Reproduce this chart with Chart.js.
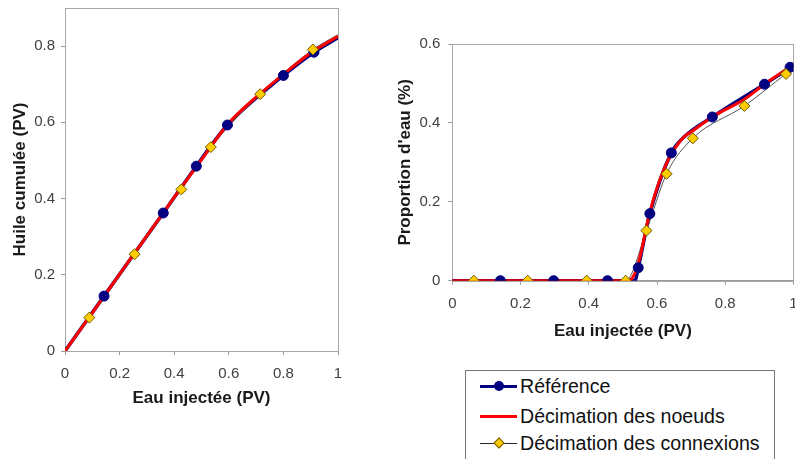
<!DOCTYPE html>
<html lang="fr">
<head>
<meta charset="utf-8">
<title>Huile cumulée et proportion d'eau</title>
<script src="https://cdn.jsdelivr.net/npm/chart.js@4.4.1/dist/chart.umd.min.js"></script>
<style>
  html, body { margin: 0; padding: 0; background: #fff; overflow: hidden; }
  #wrap { position: relative; width: 795px; height: 459px; overflow: hidden; }
  #left { position: absolute; left: 0; top: 0; width: 360px; height: 420px; }
  #right { position: absolute; left: 390px; top: 0; width: 420px; height: 345px; }
  #legend {
    position: absolute; left: 465px; top: 370px; width: 308px; height: 100px;
    border: 1px solid #777; background: #fff;
    font-family: "Liberation Sans", Arial, sans-serif; font-size: 19.6px; color: #111;
  }
  .item { position: absolute; left: 14px; height: 20px; display: flex; align-items: center; white-space: nowrap; }
  .swatch { position: relative; width: 37px; height: 20px; margin-right: 3px; }
  .swatch .ln { position: absolute; left: 0; right: 0; }
  .swatch .mk { position: absolute; box-sizing: border-box; }
</style>
</head>
<body>
<div id="wrap">
  <div id="left"><canvas id="oilChart"></canvas></div>
  <div id="right"><canvas id="waterChart"></canvas></div>
  <div id="legend"></div>
</div>
<script>
// Tick labels
const xTicks = [0, 0.2, 0.4, 0.6, 0.8, 1];
const oilTicks = [0, 0.2, 0.4, 0.6, 0.8];
const waterTicks = [0, 0.2, 0.4, 0.6];
const seriesNames = ['Référence', 'Décimation des noeuds', 'Décimation des connexions'];

// Huile cumulée (PV) vs Eau injectée (PV)
const oilRefX = [0, 0.143, 0.36, 0.481, 0.595, 0.80, 0.912, 1];
const oilRefY = [0, 0.144, 0.362, 0.485, 0.593, 0.723, 0.784, 0.822];
const oilRefMarkX = [0.143, 0.36, 0.481, 0.595, 0.80, 0.912];
const oilRefMarkY = [0.144, 0.362, 0.485, 0.593, 0.723, 0.784];
const oilNodesX = [0, 0.1, 0.25, 0.4, 0.5, 0.6, 0.7, 0.8, 0.9, 1];
const oilNodesY = [0, 0.1, 0.252, 0.403, 0.502, 0.598, 0.666, 0.726, 0.782, 0.826];
const oilConnX = [0, 0.089, 0.255, 0.426, 0.534, 0.715, 0.908, 1];
const oilConnY = [0, 0.0876, 0.254, 0.424, 0.535, 0.674, 0.791, 0.83];
const oilConnMarkX = [0.089, 0.255, 0.426, 0.534, 0.715, 0.908];
const oilConnMarkY = [0.0876, 0.254, 0.424, 0.535, 0.674, 0.791];

// Proportion d'eau (%) vs Eau injectée (PV)
const waterRefX = [0, 0.141, 0.297, 0.455, 0.535, 0.545, 0.579, 0.642, 0.68, 0.762, 0.915, 1];
const waterRefY = [0, 0, 0, 0, 0, 0.033, 0.170, 0.324, 0.365, 0.415, 0.498, 0.545];
const waterRefMarkX = [0.141, 0.297, 0.455, 0.545, 0.579, 0.642, 0.762, 0.915, 0.99];
const waterRefMarkY = [0, 0, 0, 0.033, 0.170, 0.324, 0.415, 0.498, 0.541];
const waterNodesX = [0, 0.45, 0.51, 0.53, 0.55, 0.575, 0.60, 0.635, 0.676, 0.705, 0.762, 0.856, 0.915, 1];
const waterNodesY = [0, 0, 0, 0.01, 0.06, 0.16, 0.235, 0.31, 0.362, 0.38, 0.415, 0.46, 0.498, 0.548];
const waterConnX = [0, 0.063, 0.221, 0.394, 0.508, 0.569, 0.628, 0.705, 0.856, 0.978, 1];
const waterConnY = [0, 0, 0, 0, 0, 0.127, 0.271, 0.361, 0.443, 0.524, 0.537];
const waterConnMarkX = [0.063, 0.221, 0.394, 0.508, 0.569, 0.628, 0.705, 0.856, 0.978];
const waterConnMarkY = [0, 0, 0, 0, 0.127, 0.271, 0.361, 0.443, 0.524];

const FONT = "'Liberation Sans', Arial, sans-serif";
const NAVY = '#000080';
const RED = '#ff0000';
const GREY_LINE = '#555555';
const GOLD = '#ffcc00';
const GOLD_EDGE = '#6b5800';
const AXIS = '#9a9a9a';

function pts(xs, ys) {
  return xs.map((x, i) => ({ x: x, y: ys[i] }));
}

function buildDatasets(d) {
  return [
    { label: seriesNames[2], data: pts(d.connMarkX, d.connMarkY), showLine: false,
      pointStyle: 'rectRot', pointRadius: 5.5, pointBackgroundColor: GOLD,
      pointBorderColor: GOLD_EDGE, pointBorderWidth: 1 },
    { label: seriesNames[0], data: pts(d.refMarkX, d.refMarkY), showLine: false,
      pointStyle: 'circle', pointRadius: 5, pointBackgroundColor: NAVY,
      pointBorderColor: NAVY, pointBorderWidth: 1 },
    { label: seriesNames[1], data: pts(d.nodesX, d.nodesY), showLine: true,
      borderColor: RED, borderWidth: 3, pointRadius: 0, cubicInterpolationMode: 'monotone' },
    { label: seriesNames[2], data: pts(d.connX, d.connY), showLine: true,
      borderColor: GREY_LINE, borderWidth: 1, pointRadius: 0, cubicInterpolationMode: 'monotone' },
    { label: seriesNames[0], data: pts(d.refX, d.refY), showLine: true,
      borderColor: NAVY, borderWidth: 3.5, pointRadius: 0, cubicInterpolationMode: 'monotone' }
  ];
}

// grey box round the plot area, drawn under the curves
const plotFrame = {
  id: 'plotFrame',
  beforeDatasetsDraw(chart) {
    const { ctx, chartArea: a } = chart;
    ctx.save();
    ctx.strokeStyle = '#a8a8a8';
    ctx.lineWidth = 1;
    ctx.strokeRect(Math.round(a.left) + 0.5, Math.round(a.top) + 0.5,
      Math.round(a.right - a.left), Math.round(a.bottom - a.top));
    ctx.restore();
  }
};

function fmt(v) {
  return String(+v.toFixed(1));
}

function makeOptions(cfg) {
  return {
    responsive: true,
    maintainAspectRatio: false,
    animation: false,
    events: [],
    layout: { padding: cfg.padding },
    plugins: { legend: { display: false }, tooltip: { enabled: false } },
    scales: {
      x: {
        type: 'linear', min: 0, max: 1,
        afterBuildTicks: s => { s.ticks = xTicks.map(v => ({ value: v })); },
        afterFit: s => { s.height = cfg.xHeight; s.paddingLeft = 0; s.paddingRight = 0; },
        ticks: { callback: fmt, color: '#404040', padding: 10, maxRotation: 0,
          font: { family: FONT, size: 15 } },
        grid: { drawOnChartArea: false, drawTicks: true, tickLength: 4, color: AXIS },
        border: { color: AXIS },
        title: { display: true, text: 'Eau injectée (PV)', color: '#1a1a1a',
          padding: { top: 0, bottom: cfg.xTitlePad },
          font: { family: FONT, size: 17, weight: 'bold' } }
      },
      y: {
        type: 'linear', min: 0, max: cfg.yMax,
        afterBuildTicks: s => { s.ticks = cfg.yTicks.map(v => ({ value: v })); },
        afterFit: s => { s.width = cfg.yWidth; s.paddingTop = 0; s.paddingBottom = 0; },
        ticks: { callback: fmt, color: '#404040', padding: cfg.yTickPad,
          font: { family: FONT, size: 15 } },
        grid: { drawOnChartArea: false, drawTicks: true, tickLength: 4, color: AXIS },
        border: { color: AXIS },
        title: { display: true, text: cfg.yTitle, color: '#1a1a1a',
          padding: { top: cfg.yTitlePad, bottom: 0 },
          font: { family: FONT, size: 17, weight: 'bold' } }
      }
    }
  };
}

new Chart(document.getElementById('oilChart'), {
  type: 'scatter',
  data: {
    datasets: buildDatasets({
      refX: oilRefX, refY: oilRefY, refMarkX: oilRefMarkX, refMarkY: oilRefMarkY,
      nodesX: oilNodesX, nodesY: oilNodesY,
      connX: oilConnX, connY: oilConnY, connMarkX: oilConnMarkX, connMarkY: oilConnMarkY
    })
  },
  options: makeOptions({
    padding: { top: 8, right: 22, bottom: 0, left: 0 },
    xHeight: 69, yWidth: 65, yMax: 0.9, yTicks: oilTicks,
    yTitle: 'Huile cumulée (PV)', yTitlePad: 10, xTitlePad: 11, yTickPad: 6
  }),
  plugins: [plotFrame]
});

new Chart(document.getElementById('waterChart'), {
  type: 'scatter',
  data: {
    datasets: buildDatasets({
      refX: waterRefX, refY: waterRefY, refMarkX: waterRefMarkX, refMarkY: waterRefMarkY,
      nodesX: waterNodesX, nodesY: waterNodesY,
      connX: waterConnX, connY: waterConnY, connMarkX: waterConnMarkX, connMarkY: waterConnMarkY
    })
  },
  options: makeOptions({
    padding: { top: 44, right: 16.5, bottom: 0, left: 0 },
    xHeight: 64.3, yWidth: 62.3, yMax: 0.6, yTicks: waterTicks,
    yTitle: "Proportion d'eau (%)", yTitlePad: 5, xTitlePad: 3, yTickPad: 8
  }),
  plugins: [plotFrame]
});

// HTML legend below the right chart
function buildLegend() {
  const legend = document.getElementById('legend');
  const entries = [
    { text: seriesNames[0], line: NAVY, lw: 3, marker: 'circle' },
    { text: seriesNames[1], line: RED, lw: 3, marker: null },
    { text: seriesNames[2], line: '#222', lw: 1, marker: 'diamond' }
  ];
  const tops = [5, 35, 62];
  entries.forEach((e, i) => {
    const item = document.createElement('div');
    item.className = 'item';
    item.style.top = tops[i] + 'px';
    const sw = document.createElement('div');
    sw.className = 'swatch';
    const ln = document.createElement('div');
    ln.className = 'ln';
    ln.style.height = e.lw + 'px';
    ln.style.top = (10 - e.lw / 2) + 'px';
    ln.style.background = e.line;
    sw.appendChild(ln);
    if (e.marker === 'circle') {
      const mk = document.createElement('div');
      mk.className = 'mk';
      mk.style.cssText += 'width:10px;height:10px;left:13.5px;top:5px;border-radius:50%;background:' + NAVY + ';';
      sw.appendChild(mk);
    } else if (e.marker === 'diamond') {
      const mk = document.createElement('div');
      mk.className = 'mk';
      mk.style.cssText += 'width:8px;height:8px;left:14.5px;top:6px;transform:rotate(45deg);background:' + GOLD + ';border:1px solid ' + GOLD_EDGE + ';';
      sw.appendChild(mk);
    }
    const label = document.createElement('span');
    label.textContent = e.text;
    item.appendChild(sw);
    item.appendChild(label);
    legend.appendChild(item);
  });
}
buildLegend();
</script>
</body>
</html>
